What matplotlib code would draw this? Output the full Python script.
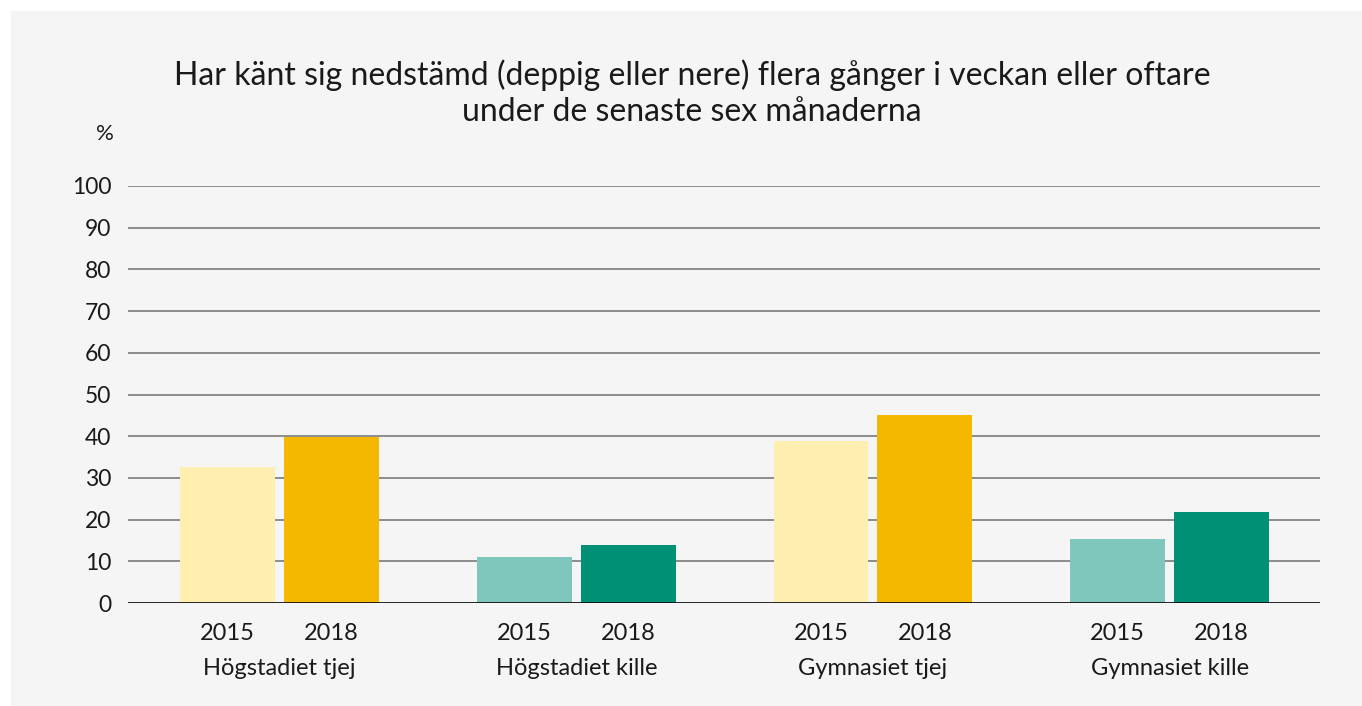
import matplotlib
matplotlib.use("Agg")
import matplotlib.pyplot as plt
import numpy as np

# Data
groups = ["Högstadiet tjej", "Högstadiet kille", "Gymnasiet tjej", "Gymnasiet kille"]
years = ["2015", "2018"]
values_2015 = [32.6, 11.1, 38.9, 15.4]
values_2018 = [39.8, 14.0, 45.0, 21.9]
colors_2015 = ["#FEEFB0", "#7FC7BC", "#FEEFB0", "#7FC7BC"]
colors_2018 = ["#F5B800", "#009076", "#F5B800", "#009076"]
yticks = [0, 10, 20, 30, 40, 50, 60, 70, 80, 90, 100]

plt.rcParams['font.family'] = ['Lato', 'DejaVu Sans']

W, H = 1362, 706
fig = plt.figure(figsize=(W / 100, H / 100), dpi=100)
fig.patch.set_facecolor("white")

# light grey panel behind everything
bg = fig.add_axes([11 / W, 0, 1 - 11 / W, 1 - 11 / H], zorder=-5)
bg.set_facecolor("#F5F5F5")
bg.set_xticks([])
bg.set_yticks([])
for s in bg.spines.values():
    s.set_visible(False)

ax = fig.add_axes([128 / W, 1 - 603 / H, (1320 - 128) / W, (603 - 186) / H], zorder=1)
ax.set_facecolor("none")

x = np.arange(len(groups))
bw = 0.32
off = 0.175
ax.bar(x - off, values_2015, width=bw, color=colors_2015, zorder=3)
ax.bar(x + off, values_2018, width=bw, color=colors_2018, zorder=3)

ax.set_xlim(-0.511, 3.507)
ax.set_ylim(0, 100)
ax.set_yticks(yticks)
ax.set_yticklabels([str(t) for t in yticks], fontsize=16.5, color="#1a1a1a")
ax.tick_params(axis="y", length=0, pad=12)
ax.set_xticks([])
for t in yticks[1:]:
    ax.axhline(t, color="#707070", lw=1.1, zorder=1)
ax.axhline(0, color="#111111", lw=2, zorder=4)
for s in ax.spines.values():
    s.set_visible(False)

# year and group labels below the bars
for i, g in enumerate(groups):
    ax.text(x[i] - off, -7.2, years[0], ha="center", va="center", fontsize=17,
            color="#1a1a1a")
    ax.text(x[i] + off, -7.2, years[1], ha="center", va="center", fontsize=17,
            color="#1a1a1a")
    ax.text(x[i], -15.6, g, ha="center", va="center", fontsize=17,
            color="#1a1a1a")

fig.text(105 / W, 1 - 134 / H, "%", ha="center", va="center", fontsize=16, color="#1a1a1a")
fig.text(692 / W, 1 - 75 / H, "Har känt sig nedstämd (deppig eller nere) flera gånger i veckan eller oftare",
         ha="center", va="center", fontsize=23, color="#1a1a1a")
fig.text(692 / W, 1 - 112 / H, "under de senaste sex månaderna",
         ha="center", va="center", fontsize=23, color="#1a1a1a")

fig.savefig("out.png", dpi=100, facecolor=fig.get_facecolor())
